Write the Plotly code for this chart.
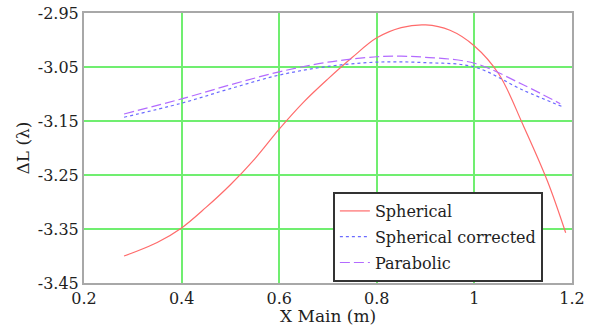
import plotly.graph_objects as go

# Data
x_sph = [0.282, 0.3, 0.35, 0.4, 0.45, 0.5, 0.55, 0.6, 0.65, 0.7, 0.75, 0.8, 0.85, 0.9, 0.95, 1.0, 1.05, 1.1, 1.15, 1.187]
y_sph = [-3.400, -3.394, -3.375, -3.348, -3.310, -3.268, -3.220, -3.165, -3.115, -3.072, -3.032, -2.996, -2.977, -2.972, -2.982, -3.011, -3.063, -3.158, -3.262, -3.357]

x_cor = [0.282, 0.4, 0.5, 0.6, 0.7, 0.8, 0.9, 1.0, 1.1, 1.182]
y_cor = [-3.143, -3.117, -3.090, -3.065, -3.049, -3.041, -3.042, -3.050, -3.093, -3.124]

x_par = [0.282, 0.4, 0.5, 0.6, 0.7, 0.8, 0.85, 0.9, 1.0, 1.1, 1.176]
y_par = [-3.137, -3.109, -3.083, -3.059, -3.041, -3.031, -3.030, -3.032, -3.043, -3.083, -3.118]

x_ticks = [0.2, 0.4, 0.6, 0.8, 1.0, 1.2]
x_tick_text = ["0.2", "0.4", "0.6", "0.8", "1", "1.2"]
y_ticks = [-3.45, -3.35, -3.25, -3.15, -3.05, -2.95]
y_tick_text = ["-3.45", "-3.35", "-3.25", "-3.15", "-3.05", "-2.95"]

FONT = "DejaVu Serif"
TXT = "#1e1e1e"

fig = go.Figure()
fig.add_trace(go.Scatter(x=x_sph, y=y_sph, mode="lines", name="Spherical", legendgroup="a",
                         line=dict(color="#ff6b6b", width=1.2, shape="spline")))
fig.add_trace(go.Scatter(x=x_cor, y=y_cor, mode="lines", name="Spherical corrected", legendgroup="b",
                         line=dict(color="#6b6bff", width=1.2, dash="dot", shape="spline")))
fig.add_trace(go.Scatter(x=x_par, y=y_par, mode="lines", name="Parabolic", legendgroup="c",
                         line=dict(color="#b36bff", width=1.2, dash="10px,4px", shape="spline")))

fig.update_layout(
    width=596, height=326,
    margin=dict(l=84, r=24, t=13, b=43, autoexpand=False),
    paper_bgcolor="white", plot_bgcolor="white",
    font=dict(family=FONT, size=16, color=TXT),
    showlegend=True,
    legend=dict(x=0.510, y=0.337, xanchor="left", yanchor="top",
                bgcolor="white", bordercolor="#333333", borderwidth=2,
                font=dict(family=FONT, size=16, color=TXT),
                tracegroupgap=2, itemwidth=30),
    xaxis=dict(range=[0.2, 1.2], tickvals=x_ticks, ticktext=x_tick_text,
               showgrid=True, gridcolor="#70ee70", gridwidth=1.6,
               showline=True, linecolor="#a8a8a8", linewidth=2, mirror=True,
               zeroline=False, ticks="", ticklen=0, automargin=False,
               tickfont=dict(family=FONT, size=16, color=TXT)),
    yaxis=dict(range=[-3.45, -2.95], tickvals=y_ticks, ticktext=y_tick_text,
               showgrid=True, gridcolor="#70ee70", gridwidth=1.6,
               showline=True, linecolor="#a8a8a8", linewidth=2, mirror=True,
               zeroline=False, ticks="", ticklen=0, automargin=False,
               tickfont=dict(family=FONT, size=16, color=TXT)),
    annotations=[
        dict(text="X Main (m)", xref="paper", yref="paper", x=0.5, y=-0.122,
             xanchor="center", yanchor="middle", showarrow=False,
             font=dict(family=FONT, size=17, color=TXT)),
        dict(text="ΔL (λ)", xref="paper", yref="paper", x=-0.126, y=0.5,
             xanchor="center", yanchor="middle", showarrow=False, textangle=-90,
             font=dict(family=FONT, size=17, color=TXT)),
    ],
)

fig.write_html("out.html", config={"displayModeBar": False},
               post_script="document.body.style.margin='0';")
